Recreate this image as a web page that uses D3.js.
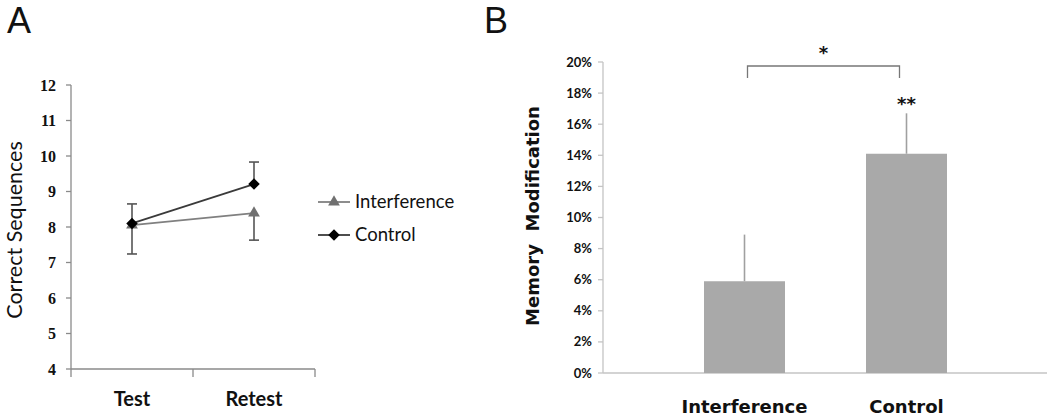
<!DOCTYPE html>
<html>
<head>
<meta charset="utf-8">
<script src="https://cdn.jsdelivr.net/npm/d3@7"></script>
<style>
  body { margin: 0; background: #fff; }
  svg { display: block; }
  text { fill: #111; }
</style>
</head>
<body>
<svg class="chart" width="1050" height="417"></svg>
<script>
// panel A: line chart
const sessions = ['Test', 'Retest']
const interferenceMean = [8.05, 8.39]
const interferenceErr = [0.81, 0.76]   // drawn downwards
const controlMean = [8.1, 9.21]
const controlErr = [0.55, 0.62]        // drawn upwards
const yTicksA = [4, 5, 6, 7, 8, 9, 10, 11, 12]

// panel B: bar chart
const groups = ['Interference', 'Control']
const modification = [0.059, 0.141]
const modificationErr = [0.03, 0.026]
const yTicksB = [0, 0.02, 0.04, 0.06, 0.08, 0.10, 0.12, 0.14, 0.16, 0.18, 0.20]

const svg = d3.select('svg.chart')

// ---------- A ----------
svg.append('text')
  .attr('x', 7).attr('y', 33)
  .style('font', '36px "Liberation Sans", Arial, sans-serif')
  .text('A')

const xA = d3.scaleBand().domain(sessions).range([71, 315])
const yA = d3.scaleLinear().domain([4, 12]).range([369, 85])
const gA = svg.append('g')

gA.append('line')
  .attr('x1', 71).attr('x2', 71).attr('y1', yA(12)).attr('y2', yA(4))
  .attr('stroke', '#8a8a8a').attr('stroke-width', 1.3)
gA.append('line')
  .attr('x1', 71).attr('x2', 315).attr('y1', yA(4)).attr('y2', yA(4))
  .attr('stroke', '#8a8a8a').attr('stroke-width', 1.3)

gA.selectAll('.ytick').data(yTicksA).enter().append('line')
  .attr('x1', 66).attr('x2', 71)
  .attr('y1', d => yA(d)).attr('y2', d => yA(d))
  .attr('stroke', '#8a8a8a').attr('stroke-width', 1.3)

gA.selectAll('.ylab').data(yTicksA).enter().append('text')
  .attr('x', 56).attr('y', d => yA(d)).attr('dy', '0.35em')
  .attr('text-anchor', 'end')
  .style('font', 'bold 16px "Liberation Serif", serif')
  .text(d => d)

const edges = sessions.map(s => xA(s)).concat([xA.range()[1]])
gA.selectAll('.xtick').data(edges).enter().append('line')
  .attr('x1', d => d).attr('x2', d => d)
  .attr('y1', yA(4)).attr('y2', yA(4) + 8)
  .attr('stroke', '#8a8a8a').attr('stroke-width', 1.3)

const cx = s => xA(s) + xA.bandwidth() / 2

gA.selectAll('.xlab').data(sessions).enter().append('text')
  .attr('x', d => cx(d)).attr('y', 406)
  .attr('text-anchor', 'middle')
  .style('font', 'bold 20px Lato, sans-serif')
  .text(d => d)

gA.append('text')
  .attr('transform', `translate(22, 230) rotate(-90)`)
  .attr('text-anchor', 'middle')
  .style('font', '21.5px Lato, sans-serif')
  .text('Correct Sequences')

// error bars
const errBar = (means, errs, sign, color) => {
  sessions.forEach((s, i) => {
    const x = cx(s)
    const yEnd = yA(means[i] + sign * errs[i])
    gA.append('line')
      .attr('x1', x).attr('x2', x).attr('y1', yA(means[i])).attr('y2', yEnd)
      .attr('stroke', color).attr('stroke-width', 1.6)
    gA.append('line')
      .attr('x1', x - 5).attr('x2', x + 5).attr('y1', yEnd).attr('y2', yEnd)
      .attr('stroke', color).attr('stroke-width', 1.6)
  })
}
errBar(interferenceMean, interferenceErr, -1, '#555')
errBar(controlMean, controlErr, 1, '#555')

const lineA = d3.line().x((d, i) => cx(sessions[i])).y(d => yA(d))
gA.append('path').datum(interferenceMean)
  .attr('d', lineA).attr('fill', 'none')
  .attr('stroke', '#808080').attr('stroke-width', 1.8)
gA.append('path').datum(controlMean)
  .attr('d', lineA).attr('fill', 'none')
  .attr('stroke', '#3a3a3a').attr('stroke-width', 1.8)

const tri = d3.symbol().type(d3.symbolTriangle).size(60)
const dia = d3.symbol().type(d3.symbolSquare).size(66)

gA.selectAll('.tri').data(interferenceMean).enter().append('path')
  .attr('d', tri)
  .attr('transform', (d, i) => `translate(${cx(sessions[i])}, ${yA(d)})`)
  .attr('fill', '#707070')
gA.selectAll('.dia').data(controlMean).enter().append('path')
  .attr('d', dia)
  .attr('transform', (d, i) => `translate(${cx(sessions[i])}, ${yA(d)}) rotate(45)`)
  .attr('fill', '#000')

// legend
const legend = [
  { name: 'Interference', sym: tri, rot: 0, color: '#808080', fill: '#707070', y: 202 },
  { name: 'Control', sym: dia, rot: 45, color: '#3a3a3a', fill: '#000', y: 235 }
]
legend.forEach(l => {
  gA.append('line')
    .attr('x1', 318).attr('x2', 350).attr('y1', l.y).attr('y2', l.y)
    .attr('stroke', l.color).attr('stroke-width', 1.8)
  gA.append('path').attr('d', l.sym)
    .attr('transform', `translate(334, ${l.y}) rotate(${l.rot})`).attr('fill', l.fill)
  gA.append('text')
    .attr('x', 355).attr('y', l.y).attr('dy', '0.35em')
    .style('font', '18.5px Lato, sans-serif')
    .text(l.name)
})

// ---------- B ----------
svg.append('text')
  .attr('x', 484).attr('y', 33)
  .style('font', '36px "Liberation Sans", Arial, sans-serif')
  .text('B')

const xB = d3.scaleBand().domain(groups).range([623, 1028]).paddingInner(0.5).paddingOuter(0.5)
const yB = d3.scaleLinear().domain([0, 0.2]).range([373, 62])
const gB = svg.append('g')

gB.append('line')
  .attr('x1', 603).attr('x2', 603).attr('y1', yB(0.2)).attr('y2', yB(0))
  .attr('stroke', '#c4c4c4').attr('stroke-width', 1.3)
gB.append('line')
  .attr('x1', 603).attr('x2', 1047).attr('y1', yB(0)).attr('y2', yB(0))
  .attr('stroke', '#c4c4c4').attr('stroke-width', 1.3)

gB.selectAll('.ytick').data(yTicksB).enter().append('line')
  .attr('x1', 598).attr('x2', 603)
  .attr('y1', d => yB(d)).attr('y2', d => yB(d))
  .attr('stroke', '#c4c4c4').attr('stroke-width', 1.3)

gB.selectAll('.ylab').data(yTicksB).enter().append('text')
  .attr('x', 592).attr('y', d => yB(d)).attr('dy', '0.35em')
  .attr('text-anchor', 'end')
  .style('font', 'bold 13px Lato, sans-serif')
  .text(d3.format('.0%'))

gB.append('text')
  .attr('transform', `translate(539, 216) rotate(-90)`)
  .attr('text-anchor', 'middle')
  .style('font', 'bold 18px "DejaVu Sans", Verdana, sans-serif')
  .style('white-space', 'pre')
  .text('Memory  Modification')

gB.selectAll('.err').data(groups).enter().append('line')
  .attr('x1', d => xB(d) + xB.bandwidth() / 2).attr('x2', d => xB(d) + xB.bandwidth() / 2)
  .attr('y1', (d, i) => yB(modification[i]))
  .attr('y2', (d, i) => yB(modification[i] + modificationErr[i]))
  .attr('stroke', '#a0a0a0').attr('stroke-width', 1.6)

gB.selectAll('.bar').data(groups).enter().append('rect')
  .attr('x', d => xB(d)).attr('width', xB.bandwidth())
  .attr('y', (d, i) => yB(modification[i]))
  .attr('height', (d, i) => yB(0) - yB(modification[i]))
  .attr('fill', '#a9a9a9')

gB.selectAll('.xlab').data(groups).enter().append('text')
  .attr('x', d => xB(d) + xB.bandwidth() / 2).attr('y', 413)
  .attr('text-anchor', 'middle')
  .style('font', 'bold 18px "DejaVu Sans", Verdana, sans-serif')
  .text(d => d)

// significance
const bx1 = xB('Interference') + xB.bandwidth() / 2 + 3
const bx2 = xB('Control') + xB.bandwidth() / 2 - 7
gB.append('path')
  .attr('d', `M${bx1},78V66H${bx2}V78`)
  .attr('fill', 'none').attr('stroke', '#777').attr('stroke-width', 1.3)
gB.append('text')
  .attr('x', (bx1 + bx2) / 2).attr('y', 59)
  .attr('text-anchor', 'middle')
  .style('font', 'bold 18px "DejaVu Sans", sans-serif')
  .text('*')
gB.append('text')
  .attr('x', xB('Control') + xB.bandwidth() / 2).attr('y', 110)
  .attr('text-anchor', 'middle')
  .style('font', 'bold 18px "DejaVu Sans", sans-serif')
  .text('**')
</script>
</body>
</html>
